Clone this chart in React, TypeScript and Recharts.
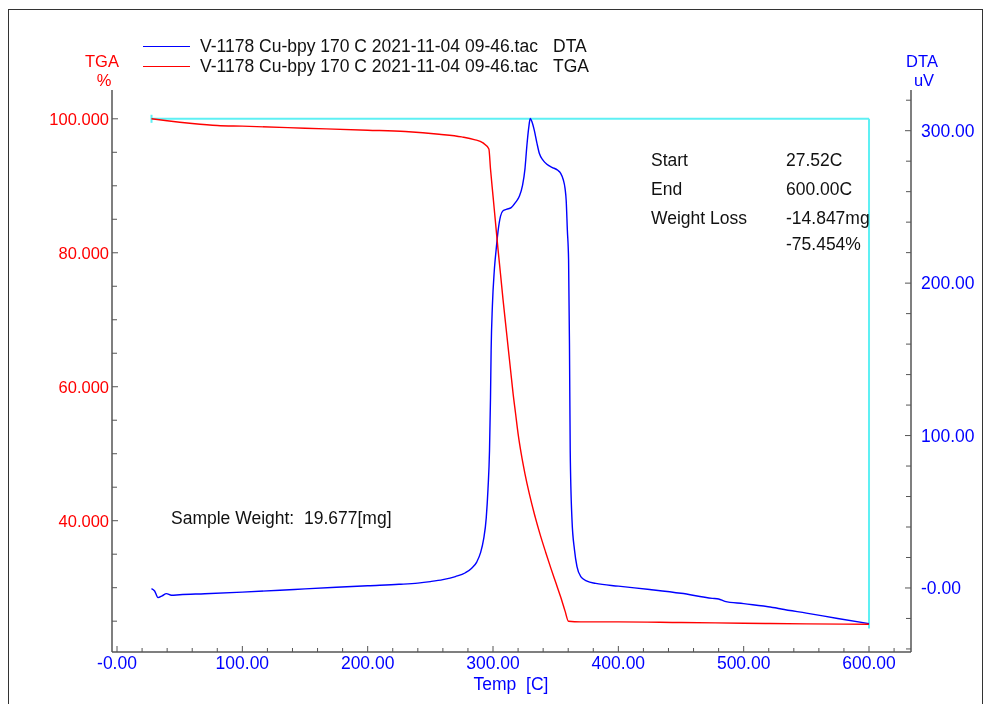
import {
  LineChart,
  Line,
  XAxis,
  YAxis,
  ReferenceLine,
  Legend,
} from 'recharts';

// DTA curve (uV) vs temperature (C)
const dtaTemp = [
  27.5, 30, 32.7, 36, 39.4, 43.4, 50, 70, 100, 130, 150, 175, 200, 225, 240,
  250, 260, 270, 278, 283, 287, 290, 292.5, 294.6, 296, 297.2, 298, 298.5,
  299.5, 301, 302.5, 304, 306, 308, 311, 314.5, 318, 321, 323.5, 325.5, 327,
  328.5, 329.7, 331, 333, 335, 337, 340, 343, 347, 351.7, 354, 356, 357.5,
  358.4, 359.3, 360.3, 361, 361.6, 363, 365, 367, 370, 375, 382, 400, 425,
  450, 475, 480, 485, 500, 525, 530, 550, 575, 600,
];
const dtaValue = [
  -0.4, -2, -6.3, -5.2, -3.7, -4.8, -4.4, -3.8, -2.7, -1.5, -0.6, 0.5, 1.5,
  2.4, 3.2, 4.2, 5.5, 7.5, 10, 13, 17, 23, 32, 46, 65, 90, 125, 156, 185, 208,
  222, 234, 244, 247.5, 248.5, 249.5, 253, 257, 264, 275, 290, 302, 308, 306,
  300, 292, 285, 280.5, 278, 276, 274, 272, 268, 262, 254, 235, 215, 160, 90,
  45, 25, 14, 7.5, 4.5, 3, 1.2, -1, -3.5, -6.8, -7.2, -8.8, -10.3, -13, -13.8,
  -16.5, -20, -23.4,
];

// TGA curve (%) vs temperature (C)
const tgaTemp = [
  27.5, 40, 60, 80, 100, 150, 200, 230, 257, 275, 285, 292, 296.7, 298, 300,
  302, 304, 306, 308, 310, 312, 314, 316, 318, 320, 322.5, 325.5, 329, 333,
  337.5, 342, 346, 350, 354, 357.5, 360.2, 370, 400, 450, 500, 550, 600,
];
const tgaValue = [
  100.0, 99.7, 99.3, 99.0, 98.9, 98.6, 98.3, 98.1, 97.7, 97.3, 96.9, 96.4,
  95.5, 92.5, 88.5, 84.5, 80.5, 76.8, 73, 69.5, 66, 62.5, 59, 56, 53, 50, 47,
  44, 41, 38, 35.3, 33, 30.8, 28.6, 26.5, 25.0, 24.9, 24.9, 24.8, 24.7, 24.6,
  24.55,
];

// start / end marker (cyan)
const markStart = 27.52;
const markEnd = 600;
const markTop = 100;
const markBottom = 23.9;

const xTicks = Array.from({ length: 32 }, (_, i) => i * 20);
const tgaTicks = Array.from({ length: 16 }, (_, i) => 25 + i * 5);
const dtaTicks = Array.from({ length: 19 }, (_, i) => -40 + i * 20);

const legendName = 'V-1178 Cu-bpy 170 C 2021-11-04 09-46.tac';
const sampleWeight = 'Sample Weight:  19.677[mg]';
const resultRows = [
  ['Start', '27.52C'],
  ['End', '600.00C'],
  ['Weight Loss', '-14.847mg'],
  ['', '-75.454%'],
];

const dtaData = dtaTemp.map((t, i) => ({ t, v: dtaValue[i] }));
const tgaData = tgaTemp.map((t, i) => ({ t, v: tgaValue[i] }));

const blue = '#0000ff';
const red = '#ff0000';
const cyan = '#5ef0f4';
const axisColor = '#555';
const font = '"Liberation Sans", Arial, sans-serif';
const fs = 17.5;

const XTick = (props: any) => {
  const { x, y, payload } = props;
  const v = payload.value;
  const major = v % 100 === 0;
  return (
    <g>
      <line x1={x} x2={x} y1={y} y2={y - (major ? 6 : 4)} stroke={axisColor} />
      {major && (
        <text x={x} y={y + 17} textAnchor="middle" fill={blue} fontSize={fs} fontFamily={font}>
          {v === 0 ? '-0.00' : v.toFixed(2)}
        </text>
      )}
    </g>
  );
};

const TgaTick = (props: any) => {
  const { x, y, payload } = props;
  const v = payload.value;
  const major = v % 20 === 0;
  return (
    <g>
      <line x1={x} x2={x + (major ? 6 : 5)} y1={y} y2={y} stroke={axisColor} />
      {major && (
        <text x={x - 3} y={y + 6} textAnchor="end" fill={red} fontSize={16.5} fontFamily={font}>
          {v.toFixed(3)}
        </text>
      )}
    </g>
  );
};

const DtaTick = (props: any) => {
  const { x, y, payload } = props;
  const v = payload.value;
  const major = v % 100 === 0;
  return (
    <g>
      <line x1={x} x2={x - (major ? 6 : 5)} y1={y} y2={y} stroke={axisColor} />
      {major && (
        <text x={x + 10} y={y + 6} textAnchor="start" fill={blue} fontSize={fs} fontFamily={font}>
          {v === 0 ? '-0.00' : v.toFixed(2)}
        </text>
      )}
    </g>
  );
};

const renderLegend = () => (
  <div style={{ fontFamily: font, fontSize: fs, color: '#111' }}>
    {[
      { c: blue, s: 'DTA' },
      { c: red, s: 'TGA' },
    ].map((r) => (
      <div key={r.s} style={{ display: 'flex', alignItems: 'center', height: 20 }}>
        <span style={{ width: 47, borderTop: `1.5px solid ${r.c}`, marginRight: 10 }} />
        <span
          style={{ width: 346, marginRight: 7, whiteSpace: 'pre', overflow: 'hidden', display: 'inline-block' }}
        >
          {legendName}
        </span>
        <span>{r.s}</span>
      </div>
    ))}
  </div>
);

const txt = (
  s: string,
  left: number,
  top: number,
  color = '#111',
  align: any = 'left',
  lh = 20,
  size = fs,
) => (
  <div
    style={{
      position: 'absolute',
      left: left - 8,
      top: top - 8 - lh / 2,
      fontSize: size,
      lineHeight: `${lh}px`,
      color,
      whiteSpace: 'pre',
      textAlign: align,
      transform: align === 'center' ? 'translateX(-50%)' : undefined,
    }}
  >
    {s}
  </div>
);

export default function App() {
  return (
    <div style={{ position: 'relative', width: 969, height: 688, fontFamily: font }}>
      <div
        style={{
          position: 'fixed',
          left: 8,
          top: 9,
          width: 973,
          height: 720,
          border: '1.5px solid #333',
          pointerEvents: 'none',
        }}
      />
      <LineChart
        width={969}
        height={688}
        margin={{ top: 82, right: 0, bottom: 0, left: 0 }}
      >
        <XAxis
          dataKey="t"
          type="number"
          domain={[-4, 633.5]}
          ticks={xTicks}
          interval={0}
          allowDataOverflow
          tick={<XTick />}
          tickLine={false}
          tickSize={0}
          tickMargin={0}
          height={44}
          axisLine={{ stroke: axisColor, strokeWidth: 1.5 }}
        />
        <XAxis
          xAxisId="top"
          orientation="top"
          type="number"
          domain={[-4, 633.5]}
          height={0}
          tick={false}
          tickLine={false}
          axisLine={{ stroke: axisColor, strokeWidth: 1.5 }}
        />
        <YAxis
          yAxisId="tga"
          type="number"
          domain={[20.4, 104.3]}
          ticks={tgaTicks}
          interval={0}
          allowDataOverflow
          tick={<TgaTick />}
          tickLine={false}
          tickSize={0}
          tickMargin={0}
          width={104}
          axisLine={{ stroke: axisColor, strokeWidth: 1.5 }}
        />
        <YAxis
          yAxisId="dta"
          orientation="right"
          type="number"
          domain={[-42, 326.7]}
          ticks={dtaTicks}
          interval={0}
          allowDataOverflow
          tick={<DtaTick />}
          tickLine={false}
          tickSize={0}
          tickMargin={0}
          width={66}
          axisLine={{ stroke: axisColor, strokeWidth: 1.5 }}
        />
        <Legend
          content={renderLegend}
          layout="horizontal"
          verticalAlign="middle"
          align="center"
          wrapperStyle={{ top: 28, left: 135, width: 'auto' }}
        />
        <ReferenceLine
          yAxisId="tga"
          stroke={cyan}
          strokeWidth={2}
          segment={[
            { x: markStart, y: markTop },
            { x: markEnd, y: markTop },
          ]}
        />
        <ReferenceLine
          yAxisId="tga"
          stroke={cyan}
          strokeWidth={2}
          segment={[
            { x: markEnd, y: markTop },
            { x: markEnd, y: markBottom },
          ]}
        />
        <ReferenceLine
          yAxisId="tga"
          stroke={cyan}
          strokeWidth={2}
          segment={[
            { x: markStart, y: markTop + 0.6 },
            { x: markStart, y: markTop - 0.6 },
          ]}
        />
        <Line
          yAxisId="dta"
          data={dtaData}
          dataKey="v"
          type="monotone"
          stroke={blue}
          strokeWidth={1.4}
          dot={false}
          isAnimationActive={false}
        />
        <Line
          yAxisId="tga"
          data={tgaData}
          dataKey="v"
          type="monotone"
          stroke={red}
          strokeWidth={1.4}
          dot={false}
          isAnimationActive={false}
        />
      </LineChart>
      {txt('TGA', 102, 61, red, 'center', 14, 16.5)}
      {txt('%', 104, 80, red, 'center', 14, 16.5)}
      {txt('DTA', 922, 61, blue, 'center', 14, 16.5)}
      {txt('uV', 924, 80, blue, 'center', 14, 16.5)}
      {txt('Temp  [C]', 511, 684, blue, 'center')}
      {txt(sampleWeight, 171, 518)}
      {resultRows.map((r, i) => (
        <div key={i}>
          {r[0] && txt(r[0], 651, [160, 189, 218, 244][i])}
          {txt(r[1], 786, [160, 189, 218, 244][i])}
        </div>
      ))}
    </div>
  );
}
